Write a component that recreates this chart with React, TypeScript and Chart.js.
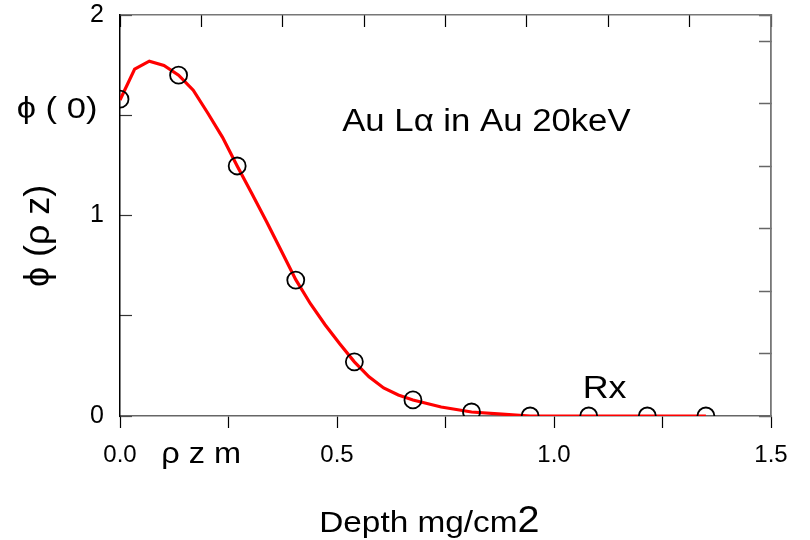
import React, { useEffect, useRef } from "react";
import { Chart, registerables } from "chart.js";
Chart.register(...registerables);

// Smooth model curve (red line)
const curveX = [0, 0.03375, 0.0675, 0.10125, 0.135, 0.16875, 0.2025, 0.23625, 0.27, 0.30375, 0.3375, 0.37125, 0.405, 0.43875, 0.4725, 0.50625, 0.54, 0.57375, 0.6075, 0.64125, 0.675, 0.74, 0.81, 0.88, 0.945, 1.08, 1.215, 1.35];
const curveY = [1.576, 1.73, 1.77, 1.748, 1.7, 1.625, 1.51, 1.39, 1.247, 1.11, 0.97, 0.825, 0.68, 0.56, 0.455, 0.36, 0.27, 0.195, 0.14, 0.105, 0.08, 0.045, 0.02, 0.009, 0, 0, 0, 0];
// Measured points (open circles)
const pointX = [0, 0.135, 0.27, 0.405, 0.54, 0.675, 0.81, 0.945, 1.08, 1.215, 1.35];
const pointY = [1.58, 1.7, 1.247, 0.678, 0.27, 0.08, 0.02, 0, 0, 0, 0];

const xMin = 0, xMax = 1.5, xStep = 0.25;
const yMin = 0, yMax = 2, yStep = 0.5;
const xLabelValues = [0, 0.5, 1, 1.5];
const yLabelValues = [0, 1, 2];

const FONT = '"Liberation Sans", Arial, sans-serif';
const PHI = "\u03d5";

function drawText(ctx: CanvasRenderingContext2D, text: string, px: number, py: number, size: number, align: CanvasTextAlign = "left", sx = 1.12) {
  ctx.save();
  ctx.font = `${size}px ${FONT}`;
  ctx.fillStyle = "#000";
  ctx.textAlign = align;
  ctx.textBaseline = "alphabetic";
  ctx.translate(px, py);
  ctx.scale(sx, 1);
  ctx.fillText(text, 0, 0);
  ctx.restore();
}

const annotPlugin = {
  id: "annot",
  afterDraw(chart: any) {
    const ctx: CanvasRenderingContext2D = chart.ctx;
    const x = chart.scales.x;
    const y = chart.scales.y;
    drawText(ctx, "Au L\u03b1 in Au 20keV", x.getPixelForValue(0.512), y.getPixelForValue(1.42), 31);
    drawText(ctx, "Rx", x.getPixelForValue(1.066), y.getPixelForValue(0.09), 32);
    drawText(ctx, PHI + " ( 0)", x.getPixelForValue(-0.238), y.getPixelForValue(1.486), 30, "left", 1.15);
    drawText(ctx, "\u03c1 z m", x.getPixelForValue(0.095), y.getPixelForValue(-0.234), 29);
    // x title
    const tx = x.getPixelForValue(0.459);
    const ty = y.getPixelForValue(-0.577);
    ctx.save();
    ctx.font = `29px ${FONT}`;
    const w = ctx.measureText("Depth mg/cm").width * 1.15;
    ctx.restore();
    drawText(ctx, "Depth mg/cm", tx, ty, 29, "left", 1.15);
    drawText(ctx, "2", tx + w, ty, 36, "left", 1.1);
    // y title rotated
    const cx = x.getPixelForValue(-0.187);
    const cy = y.getPixelForValue(0.898);
    ctx.save();
    ctx.translate(cx, cy);
    ctx.rotate(-Math.PI / 2);
    ctx.scale(1.12, 1.1);
    ctx.font = `32px ${FONT}`;
    ctx.fillStyle = "#000";
    ctx.textAlign = "center";
    ctx.textBaseline = "middle";
    ctx.fillText(PHI + " (\u03c1 z)", 0, 0);
    ctx.restore();
  },
};

const noPad = (s: any) => {
  s.paddingTop = 0;
  s.paddingBottom = 0;
  s.paddingLeft = 0;
  s.paddingRight = 0;
};

export default function App() {
  const ref = useRef<HTMLCanvasElement | null>(null);
  useEffect(() => {
    if (!ref.current) return;
    const chart = new Chart(ref.current, {
      type: "scatter",
      data: {
        datasets: [
          {
            type: "scatter",
            data: pointX.map((v, i) => ({ x: v, y: pointY[i] })),
            pointRadius: 8.5,
            pointHoverRadius: 8.5,
            pointBorderColor: "#000",
            pointBackgroundColor: "rgba(0,0,0,0)",
            pointBorderWidth: 1.8,
            showLine: false,
            order: 0,
          },
          {
            type: "line",
            data: curveX.map((v, i) => ({ x: v, y: curveY[i] })),
            borderColor: "#ff0000",
            borderWidth: 3.2,
            pointRadius: 0,
            tension: 0,
            fill: false,
            order: 1,
          } as any,
        ],
      },
      options: {
        animation: false,
        responsive: false,
        devicePixelRatio: 1,
        layout: { padding: 0 },
        plugins: { legend: { display: false }, tooltip: { enabled: false } },
        scales: {
          x: {
            type: "linear",
            position: "bottom",
            min: xMin,
            max: xMax,
            afterFit: (s: any) => { s.height = 124; noPad(s); },
            ticks: {
              stepSize: xStep,
              padding: 13,
              color: "#000",
              font: { family: FONT, size: 24 },
              maxRotation: 0,
              autoSkip: false,
              callback: (v: any) => (xLabelValues.some((t) => Math.abs(t - v) < 1e-6) ? Number(v).toFixed(1) : ""),
            },
            grid: { drawOnChartArea: false, drawTicks: true, tickLength: 12, color: "#000", tickWidth: 1.2 },
            border: { display: true, color: "#666", width: 1.5 },
          },
          x2: {
            type: "linear",
            position: "top",
            min: 0,
            max: 8,
            afterFit: (s: any) => { s.height = 15; noPad(s); },
            ticks: { stepSize: 1, display: false },
            grid: { drawOnChartArea: false, drawTicks: true, tickLength: -12, color: "#000", tickWidth: 1.2 },
            border: { display: true, color: "#777", width: 1.5 },
          },
          y: {
            type: "linear",
            position: "left",
            min: yMin,
            max: yMax,
            afterFit: (s: any) => { s.width = 120; noPad(s); },
            ticks: {
              stepSize: yStep,
              padding: 28,
              color: "#000",
              font: { family: FONT, size: 25 },
              callback: (v: any) => (yLabelValues.some((t) => Math.abs(t - v) < 1e-6) ? String(v) : ""),
            },
            grid: { drawOnChartArea: false, drawTicks: true, tickLength: -12, color: "#333", tickWidth: 1.2 },
            border: { display: true, color: "#000", width: 1.5 },
          },
          y2: {
            type: "linear",
            position: "right",
            min: 0,
            max: 6.42,
            afterFit: (s: any) => { s.width = 39; noPad(s); },
            ticks: { stepSize: 1, display: false },
            grid: { drawOnChartArea: false, drawTicks: true, tickLength: -12, color: "#666", tickWidth: 1.5 },
            border: { display: true, color: "#777", width: 1.8 },
          },
        },
      } as any,
      plugins: [annotPlugin],
    });
    return () => chart.destroy();
  }, []);
  return (
    <div style={{ position: "fixed", left: 0, top: 0, width: 810, height: 540, background: "#fff" }}>
      <canvas ref={ref} width={810} height={540} style={{ display: "block", width: 810, height: 540 }} />
    </div>
  );
}
